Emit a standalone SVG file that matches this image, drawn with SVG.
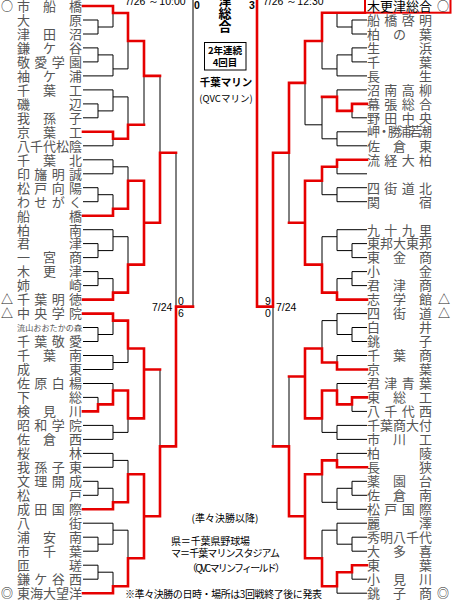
<svg xmlns="http://www.w3.org/2000/svg" width="452" height="602" viewBox="0 0 452 602">
<style>
.n{font-family:"Noto Sans CJK JP","Noto Sans CJK SC",sans-serif;font-size:13px;fill:#555}
.s{font-size:8.1px}
.m{font-family:"Noto Sans CJK JP",sans-serif;font-size:12px;fill:#222}
.c{font-family:"Noto Sans CJK JP",sans-serif;fill:#000;text-anchor:middle}
.d{font-family:"Liberation Sans",Arial,sans-serif;font-size:10.5px;fill:#000}
.k{fill:none;stroke:#000;stroke-width:1}
.r{fill:none;stroke:#e60000;stroke-width:2.6;stroke-linejoin:miter;stroke-linecap:square}
</style>
<rect width="452" height="602" fill="#fff"/>

<g id="header">
<text class="d" x="125" y="4.5">7/26 ～10:00</text>
<text class="d" x="263" y="4.5">7/26 ～12:30</text>
<text class="c" x="225" y="4.5" font-size="13" font-weight="bold">津</text>
<text class="c" x="225" y="18" font-size="13" font-weight="bold">総</text>
<text class="c" x="225" y="31" font-size="13" font-weight="bold">合</text>
<text class="d" x="194" y="9" font-weight="bold" font-size="10">0</text>
<text class="d" x="249" y="9" font-weight="bold" font-size="10">3</text>
<rect x="204.5" y="42.5" width="41.5" height="27.5" fill="none" stroke="#000" stroke-width="1"/>
<text class="c" x="225" y="53.5" font-size="9.5" font-weight="bold">2年連続</text>
<text class="c" x="225" y="66" font-size="9.5" font-weight="bold">4回目</text>
<text class="c" x="226" y="85.5" font-size="10.5" font-weight="bold">千葉マリン</text>
<text class="c" x="226" y="102" font-size="9.5">(QVCマリン)</text>
<text class="d" x="152" y="310.5" font-size="10">7/24</text>
<text class="d" x="178" y="305" font-size="10">0</text>
<text class="d" x="178" y="317" font-size="10">6</text>
<text class="d" x="265" y="305" font-size="10">9</text>
<text class="d" x="265" y="317" font-size="10">0</text>
<text class="d" x="276" y="310.5" font-size="10">7/24</text>
</g>

<g id="notes">
<text class="c" x="225" y="521.5" font-size="10">(準々決勝以降)</text>
<text class="c" x="171" y="544.5" font-size="10" style="text-anchor:start" textLength="79">県＝千葉県野球場</text>
<text class="c" x="171" y="556.5" font-size="10" style="text-anchor:start" textLength="109">マ＝千葉マリンスタジアム</text>
<text class="c" x="187" y="572" font-size="10" style="text-anchor:start" textLength="98">（QVCマリンフィールド）</text>
<text class="c" x="125" y="598" font-size="10" style="text-anchor:start" textLength="197">※準々決勝の日時・場所は3回戦終了後に発表</text>
</g>

<g id="connectors">
<path class="k" d="
M83,20H98V34H83 M98,27H113 M83,6H113V27 M113,13H128
M83,47.9H98V61.9H83 M98,54.9H113 M113,54.9V75.9H83 M113,68.9H128
M128,13V68.9 M128,41H144
M83,89.9H113V110.9 M83,103.9H98V117.8H83 M98,110.9H113 M113,96.9H128
M83,131.8H113V145.8H83 M113,138.8H128
M128,96.9V138.8 M128,124.8H144
M144,41V124.8 M144,75.9H160
M83,159.8H113V173.8H83 M113,166.8H128
M83,187.7H98V201.7H83 M98,194.7H113 M113,194.7V215.7H83 M113,208.7H128
M128,166.8V208.7 M128,180.7H144
M83,229.7H113V250.6 M83,243.6H98V257.6H83 M98,250.6H113 M113,236.7H128
M83,271.6H98V285.6H83 M98,278.6H113 M113,278.6V299.6H83 M113,292.6H128
M128,236.7V292.6 M128,264.6H144
M144,180.7V264.6 M144,222.7H160
M160,75.9V222.7 M160,152.8H176
M83,313.6H113V334.5 M83,327.5H98V341.5H83 M98,334.5H113 M113,320.6H128
M83,355.5H113V369.5H83 M113,362.5H128
M128,320.6V362.5 M128,348.5H144
M83,383.5H113V404.4 M83,397.4H98V411.4H83 M98,404.4H113 M113,390.5H128
M83,425.4H113V439.4H83 M113,432.4H128
M128,390.5V432.4 M128,418.4H144
M144,348.5V418.4 M144,369.5H160
M83,453.4H113V467.3H83 M113,460.4H128
M83,481.3H98V495.3H83 M98,488.3H113 M113,488.3V509.3H83 M113,502.3H128
M128,460.4V502.3 M128,474.3H144
M83,523.2H113V544.2 M83,537.2H98V551.2H83 M98,544.2H113 M113,530.2H128
M83,565.2H98V579.2H83 M98,572.2H113 M113,572.2V593.2H83 M113,586.2H128
M128,530.2V586.2 M128,558.2H144
M144,474.3V558.2 M144,516.3H160
M160,369.5V516.3 M160,446.4H176
M176,152.8V446.4 M176,306.6H193 M193,306.6V-5
M367,20H352V34H367 M352,27H337 M337,12.7V27
M367,47.9H352V61.9H367 M352,54.9H337 M337,54.9V75.9H367 M337,68.9H322
M322,12.7V68.9 M322,41H305
M367,89.9H337V110.9 M367,103.9H352V117.8H367 M352,110.9H337 M337,96.9H322
M367,131.8H337V145.8H367 M337,138.8H322
M322,96.9V138.8 M322,124.8H305
M305,41V124.8 M305,82.9H289
M367,159.8H337V173.8H367 M337,166.8H322
M367,187.7H337V201.7H367 M337,194.7H322
M322,166.8V194.7 M322,180.7H305
M367,229.7H337V250.6 M367,243.6H352V257.6H367 M352,250.6H337 M337,236.7H322
M367,271.6H352V285.6H367 M352,278.6H337 M337,278.6V299.6H367 M337,292.6H322
M322,236.7V292.6 M322,264.6H305
M305,180.7V264.6 M305,222.7H289
M289,82.9V222.7 M289,152.8H273
M367,313.6H337V334.5 M367,327.5H352V341.5H367 M352,334.5H337 M337,320.6H322
M367,355.5H337V369.5H367 M337,362.5H322
M322,320.6V362.5 M322,348.5H305
M367,383.5H337V404.4 M367,397.4H352V411.4H367 M352,404.4H337 M337,390.5H322
M367,425.4H337V439.4H367 M337,432.4H322
M322,390.5V432.4 M322,418.4H305
M305,348.5V418.4 M305,376.5H289
M367,453.4H337V467.3H367 M337,460.4H322
M367,481.3H352V495.3H367 M352,488.3H337 M337,488.3V509.3H367 M337,502.3H322
M322,460.4V502.3 M322,474.3H305
M367,523.2H337V544.2 M367,537.2H352V551.2H367 M352,544.2H337 M337,530.2H322
M367,565.2H352V579.2H367 M352,572.2H337 M337,572.2V593.2H367 M337,586.2H322
M322,530.2V586.2 M322,558.2H305
M305,474.3V558.2 M305,516.3H289
M289,376.5V516.3 M289,446.4H273
M273,152.8V446.4 M273,306.6H257"/>
<path class="r" d="
M83,6H113V13H128V41H144V75.9H160
M83,131.8H113V138.8H128V124.8H144
M83,215.7H113V208.7H128V180.7H144V222.7
M83,299.6H113V292.6H128V264.6H144V222.7H160V152.8H176
M83,313.6H113V320.6H128V348.5H144V369.5H160
M83,411.4H98V404.4H113V390.5H128V418.4H144V369.5
M83,509.3H113V502.3H128V474.3H144V516.3
M83,593.2H113V586.2H128V558.2H144V516.3H160V446.4H176V306.6H193
M365,12.7H322V41H305V82.9H289V152.8H273V306.6H257V-5
M367,103.9H352V110.9H337V96.9H322
M367,159.8H337V166.8H322V180.7H305V222.7H289
M367,299.6H337V292.6H322V264.6H305V222.7
M367,369.5H337V362.5H322V348.5H305V376.5H289
M367,397.4H352V404.4H337V390.5H322V418.4H305V376.5
M367,467.3H337V460.4H322V474.3H305V516.3
M367,565.2H352V572.2H337V586.2H322V558.2H305V516.3H289V446.4H273"/>
</g>

<g id="L01"><text class="m" x="1" y="10.5">○</text><text class="n" x="17" y="10.8" textLength="65">市船橋</text></g>
<g id="L02"><text class="n" x="17" y="24.8" textLength="65">大原</text></g>
<g id="L03"><text class="n" x="17" y="38.8" textLength="65">津田沼</text></g>
<g id="L04"><text class="n" x="17" y="52.7" textLength="65">鎌ケ谷</text></g>
<g id="L05"><text class="n" x="17" y="66.7" textLength="65">敬愛学園</text></g>
<g id="L06"><text class="n" x="17" y="80.7" textLength="65">袖ケ浦</text></g>
<g id="L07"><text class="n" x="17" y="94.7" textLength="65">千葉工</text></g>
<g id="L08"><text class="n" x="17" y="108.7" textLength="65">磯辺</text></g>
<g id="L09"><text class="n" x="17" y="122.6" textLength="65">我孫子</text></g>
<g id="L10"><text class="n" x="17" y="136.6" textLength="65">京葉工</text></g>
<g id="L11"><text class="n" x="17" y="150.6" textLength="65">八千代松陰</text></g>
<g id="L12"><text class="n" x="17" y="164.6" textLength="65">千葉北</text></g>
<g id="L13"><text class="n" x="17" y="178.6" textLength="65">印旛明誠</text></g>
<g id="L14"><text class="n" x="17" y="192.5" textLength="65">松戸向陽</text></g>
<g id="L15"><text class="n" x="17" y="206.5" textLength="65">わせがく</text></g>
<g id="L16"><text class="n" x="17" y="220.5" textLength="65">船橋</text></g>
<g id="L17"><text class="n" x="17" y="234.5" textLength="65">柏南</text></g>
<g id="L18"><text class="n" x="17" y="248.4" textLength="65">君津</text></g>
<g id="L19"><text class="n" x="17" y="262.4" textLength="65">一宮商</text></g>
<g id="L20"><text class="n" x="17" y="276.4" textLength="65">木更津</text></g>
<g id="L21"><text class="n" x="17" y="290.4" textLength="65">姉崎</text></g>
<g id="L22"><text class="m" x="1" y="304">△</text><text class="n" x="17" y="304.4" textLength="65">千葉明徳</text></g>
<g id="L23"><text class="m" x="1" y="318">△</text><text class="n" x="17" y="318.4" textLength="65">中央学院</text></g>
<g id="L24"><text class="n s" x="17" y="330.5" textLength="65">流山おおたかの森</text></g>
<g id="L25"><text class="n" x="17" y="346.3" textLength="65">千葉敬愛</text></g>
<g id="L26"><text class="n" x="17" y="360.3" textLength="65">千葉南</text></g>
<g id="L27"><text class="n" x="17" y="374.3" textLength="65">成東</text></g>
<g id="L28"><text class="n" x="17" y="388.3" textLength="65">佐原白楊</text></g>
<g id="L29"><text class="n" x="17" y="402.2" textLength="65">下総</text></g>
<g id="L30"><text class="n" x="17" y="416.2" textLength="65">検見川</text></g>
<g id="L31"><text class="n" x="17" y="430.2" textLength="65">昭和学院</text></g>
<g id="L32"><text class="n" x="17" y="444.2" textLength="65">佐倉西</text></g>
<g id="L33"><text class="n" x="17" y="458.2" textLength="65">桜林</text></g>
<g id="L34"><text class="n" x="17" y="472.1" textLength="65">我孫子東</text></g>
<g id="L35"><text class="n" x="17" y="486.1" textLength="65">文理開成</text></g>
<g id="L36"><text class="n" x="17" y="500.1" textLength="65">松戸</text></g>
<g id="L37"><text class="n" x="17" y="514.1" textLength="65">成田国際</text></g>
<g id="L38"><text class="n" x="17" y="528" textLength="65">八街</text></g>
<g id="L39"><text class="n" x="17" y="542" textLength="65">浦安南</text></g>
<g id="L40"><text class="n" x="17" y="556" textLength="65">市千葉</text></g>
<g id="L41"><text class="n" x="17" y="570" textLength="65">匝瑳</text></g>
<g id="L42"><text class="n" x="17" y="584" textLength="65">鎌ケ谷西</text></g>
<g id="L43"><text class="m" x="1" y="597.7">◎</text><text class="n" x="17" y="598" textLength="65">東海大望洋</text></g>

<g id="R01"><rect x="365" y="-1.5" width="85.5" height="14.2" fill="#fff" stroke="#e60000" stroke-width="2"/><text class="n" x="367" y="10.8" textLength="65" style="fill:#000">木更津総合</text><text class="m" x="437" y="10.5">○</text></g>
<g id="R02"><text class="n" x="367" y="24.8" textLength="65">船橋啓明</text></g>
<g id="R03"><text class="n" x="367" y="38.8" textLength="65">柏の葉</text></g>
<g id="R04"><text class="n" x="367" y="52.7" textLength="65">生浜</text></g>
<g id="R05"><text class="n" x="367" y="66.7" textLength="65">千葉</text></g>
<g id="R06"><text class="n" x="367" y="80.7" textLength="65">長生</text></g>
<g id="R07"><text class="n" x="367" y="94.7" textLength="65">沼南高柳</text></g>
<g id="R08"><text class="n" x="367" y="108.7" textLength="65">幕張総合</text></g>
<g id="R09"><text class="n" x="367" y="122.6" textLength="65">野田中央</text></g>
<g id="R10"><text class="n" x="367" y="135.8" textLength="65" font-size="11">岬・勝浦若潮</text></g>
<g id="R11"><text class="n" x="367" y="150.6" textLength="65">佐倉東</text></g>
<g id="R12"><text class="n" x="367" y="164.6" textLength="65">流経大柏</text></g>
<g id="R14"><text class="n" x="367" y="192.5" textLength="65">四街道北</text></g>
<g id="R15"><text class="n" x="367" y="206.5" textLength="65">関宿</text></g>
<g id="R17"><text class="n" x="367" y="234.5" textLength="65">九十九里</text></g>
<g id="R18"><text class="n" x="367" y="248.4" textLength="65">東邦大東邦</text></g>
<g id="R19"><text class="n" x="367" y="262.4" textLength="65">東金商</text></g>
<g id="R20"><text class="n" x="367" y="276.4" textLength="65">小金</text></g>
<g id="R21"><text class="n" x="367" y="290.4" textLength="65">君津商</text></g>
<g id="R22"><text class="n" x="367" y="304.4" textLength="65">志学館</text><text class="m" x="438" y="304">△</text></g>
<g id="R23"><text class="n" x="367" y="318.4" textLength="65">四街道</text><text class="m" x="438" y="318">△</text></g>
<g id="R24"><text class="n" x="367" y="332.3" textLength="65">白井</text></g>
<g id="R25"><text class="n" x="367" y="346.3" textLength="65">銚子</text></g>
<g id="R26"><text class="n" x="367" y="360.3" textLength="65">千葉商</text></g>
<g id="R27"><text class="n" x="367" y="374.3" textLength="65">京葉</text></g>
<g id="R28"><text class="n" x="367" y="388.3" textLength="65">君津青葉</text></g>
<g id="R29"><text class="n" x="367" y="402.2" textLength="65">東総工</text></g>
<g id="R30"><text class="n" x="367" y="416.2" textLength="65">八千代西</text></g>
<g id="R31"><text class="n" x="367" y="430.2" textLength="65">千葉商大付</text></g>
<g id="R32"><text class="n" x="367" y="444.2" textLength="65">市川工</text></g>
<g id="R33"><text class="n" x="367" y="458.2" textLength="65">柏陵</text></g>
<g id="R34"><text class="n" x="367" y="472.1" textLength="65">長狭</text></g>
<g id="R35"><text class="n" x="367" y="486.1" textLength="65">薬園台</text></g>
<g id="R36"><text class="n" x="367" y="500.1" textLength="65">佐倉南</text></g>
<g id="R37"><text class="n" x="367" y="514.1" textLength="65">松戸国際</text></g>
<g id="R38"><text class="n" x="367" y="528" textLength="65">麗澤</text></g>
<g id="R39"><text class="n" x="367" y="542" textLength="65">秀明八千代</text></g>
<g id="R40"><text class="n" x="367" y="556" textLength="65">大多喜</text></g>
<g id="R41"><text class="n" x="367" y="570" textLength="65">東葉</text></g>
<g id="R42"><text class="n" x="367" y="584" textLength="65">小見川</text></g>
<g id="R43"><text class="n" x="367" y="598" textLength="65">銚子商</text><text class="m" x="437" y="597.7">◎</text></g>
</svg>
